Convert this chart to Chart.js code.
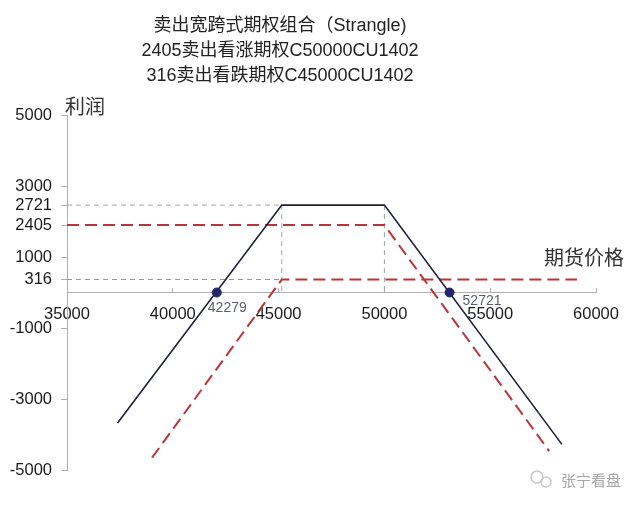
<!DOCTYPE html>
<html>
<head>
<meta charset="utf-8">
<script src="https://cdn.jsdelivr.net/npm/chart.js@4"></script>
<style>
  html, body { margin: 0; padding: 0; background: #fff; }
  #wrap { width: 640px; height: 506px; }
</style>
</head>
<body>
<div id="wrap"><canvas id="strangle"></canvas></div>
<script>
// titolo e etichette
var titleLines = ['卖出宽跨式期权组合（Strangle)', '2405卖出看涨期权C50000CU1402', '316卖出看跌期权C45000CU1402'];
var yName = '利润';
var xName = '期货价格';
var watermark = '张宁看盘';

// tick degli assi (posizione, testo come scritto)
var xTicks = [35000, 40000, 45000, 50000, 55000, 60000];
var yTickValues = [5000, 3000, 2462, 1898, 1000, 367, -1000, -3000, -5000];
var yTickLabels = ['5000', '3000', '2721', '2405', '1000', '316', '-1000', '-3000', '-5000'];

// linea del portafoglio combinato
var comboX = [37390, 45150, 50000, 58390];
var comboY = [-3677, 2462, 2462, -4278];

// vendita call 50000
var callX = [35000, 50000, 57790];
var callY = [1898, 1898, -4467];

// vendita put 45000
var putX = [39020, 45150, 59100];
var putY = [-4653, 367, 367];

// linee guida grigie
var guideTopX = [35000, 45150];
var guideTopY = [2462, 2462];
var guideLowX = [35000, 45150];
var guideLowY = [367, 367];
var guideV1X = [45150, 45150];
var guideV1Y = [2462, 0];
var guideV2X = [50000, 50000];
var guideV2Y = [2462, 0];

// punti di pareggio
var breakX = [42080, 53080];
var breakY = [0, 0];
var breakLabels = ['42279', '52721'];

var baseFont = '"Liberation Sans", Arial, "Noto Sans CJK SC", sans-serif';

function toPoints(xs, ys) {
  var pts = [];
  for (var i = 0; i < xs.length; i++) {
    pts.push({ x: xs[i], y: ys[i] });
  }
  return pts;
}

function lineSet(xs, ys, color, width, dash) {
  return {
    data: toPoints(xs, ys),
    showLine: true,
    borderColor: color,
    borderWidth: width,
    borderDash: dash,
    pointRadius: 0,
    fill: false,
    tension: 0
  };
}

// testi disegnati sopra il grafico
var decorPlugin = {
  id: 'decor',
  afterDraw: function(chart) {
    var ctx = chart.ctx;
    var sx = chart.scales.x;
    var sy = chart.scales.y;
    ctx.save();
    ctx.textBaseline = 'middle';

    // titolo
    ctx.fillStyle = '#222';
    ctx.textAlign = 'center';
    ctx.font = '18px ' + baseFont;
    for (var i = 0; i < titleLines.length; i++) {
      ctx.fillText(titleLines[i], 280, 26 + i * 25);
    }

    // nomi degli assi
    ctx.fillStyle = '#333';
    ctx.font = '20px "Noto Sans CJK SC", sans-serif';
    ctx.textAlign = 'left';
    ctx.fillText(yName, 65, 106);
    ctx.fillText(xName, 544, 257);

    // etichette punti di pareggio
    ctx.fillStyle = '#5a5f70';
    ctx.font = '14px ' + baseFont;
    var offs = [[-9, 16], [13, 9]];
    for (var j = 0; j < breakX.length; j++) {
      var px = sx.getPixelForValue(breakX[j]);
      var py = sy.getPixelForValue(breakY[j]);
      ctx.fillText(breakLabels[j], px + offs[j][0], py + offs[j][1]);
    }

    // filigrana
    ctx.strokeStyle = '#c8c8c8';
    ctx.lineWidth = 1.5;
    ctx.beginPath();
    ctx.arc(537, 477, 6, 0, Math.PI * 2);
    ctx.stroke();
    ctx.beginPath();
    ctx.arc(546, 482, 5, 0, Math.PI * 2);
    ctx.stroke();
    ctx.fillStyle = '#a8a8a8';
    ctx.font = '15px "Noto Sans CJK SC", sans-serif';
    ctx.fillText(watermark, 561, 480);
    ctx.restore();
  }
};

function init() {
  var ctx = document.getElementById('strangle');
  var myChart = new Chart(ctx, {
    type: 'scatter',
    data: {
      datasets: [
        {
          data: toPoints(breakX, breakY),
          pointRadius: 4.5,
          pointBackgroundColor: '#23266b',
          pointBorderColor: '#23266b',
          showLine: false
        },
        lineSet(comboX, comboY, '#1e1f3a', 1.6, []),
        lineSet(callX, callY, '#b8353a', 2, [12, 6]),
        lineSet(putX, putY, '#b8353a', 2, [12, 6]),
        lineSet(guideTopX, guideTopY, '#9ea4ac', 1, [5, 4]),
        lineSet(guideLowX, guideLowY, '#8e9a94', 1, [5, 4]),
        lineSet(guideV1X, guideV1Y, '#9ea4ac', 1, [5, 4]),
        lineSet(guideV2X, guideV2Y, '#9ea4ac', 1, [5, 4])
      ]
    },
    options: {
      responsive: true,
      maintainAspectRatio: false,
      animation: false,
      layout: { padding: { left: 0, right: 44, top: 115, bottom: 36 } },
      plugins: {
        legend: { display: false },
        tooltip: { enabled: false },
        title: { display: false }
      },
      scales: {
        x: {
          type: 'linear',
          position: { y: 0 },
          min: 35000,
          max: 60000,
          afterBuildTicks: function(scale) {
            scale.ticks = xTicks.map(function(v) { return { value: v }; });
          },
          ticks: {
            autoSkip: false,
            maxRotation: 0,
            padding: 17,
            color: '#1a1a1a',
            font: { size: 16.5, family: baseFont },
            callback: function(v) { return String(v); }
          },
          grid: {
            drawOnChartArea: false,
            drawTicks: true,
            tickLength: -5,
            color: '#b0b0b0'
          },
          border: { display: true, color: '#b0b0b0', width: 1 }
        },
        y: {
          type: 'linear',
          position: 'left',
          min: -5000,
          max: 5000,
          afterFit: function(scale) { scale.width = 67; },
          afterBuildTicks: function(scale) {
            scale.ticks = yTickValues.map(function(v) { return { value: v }; });
          },
          ticks: {
            autoSkip: false,
            padding: 9,
            color: '#1a1a1a',
            font: { size: 16.5, family: baseFont },
            callback: function(v, i) { return yTickLabels[i]; }
          },
          grid: {
            drawOnChartArea: false,
            drawTicks: true,
            tickLength: 6,
            color: '#b0b0b0'
          },
          border: { display: true, color: '#b0b0b0', width: 1 }
        }
      }
    },
    plugins: [decorPlugin]
  });
}

init();
</script>
</body>
</html>
